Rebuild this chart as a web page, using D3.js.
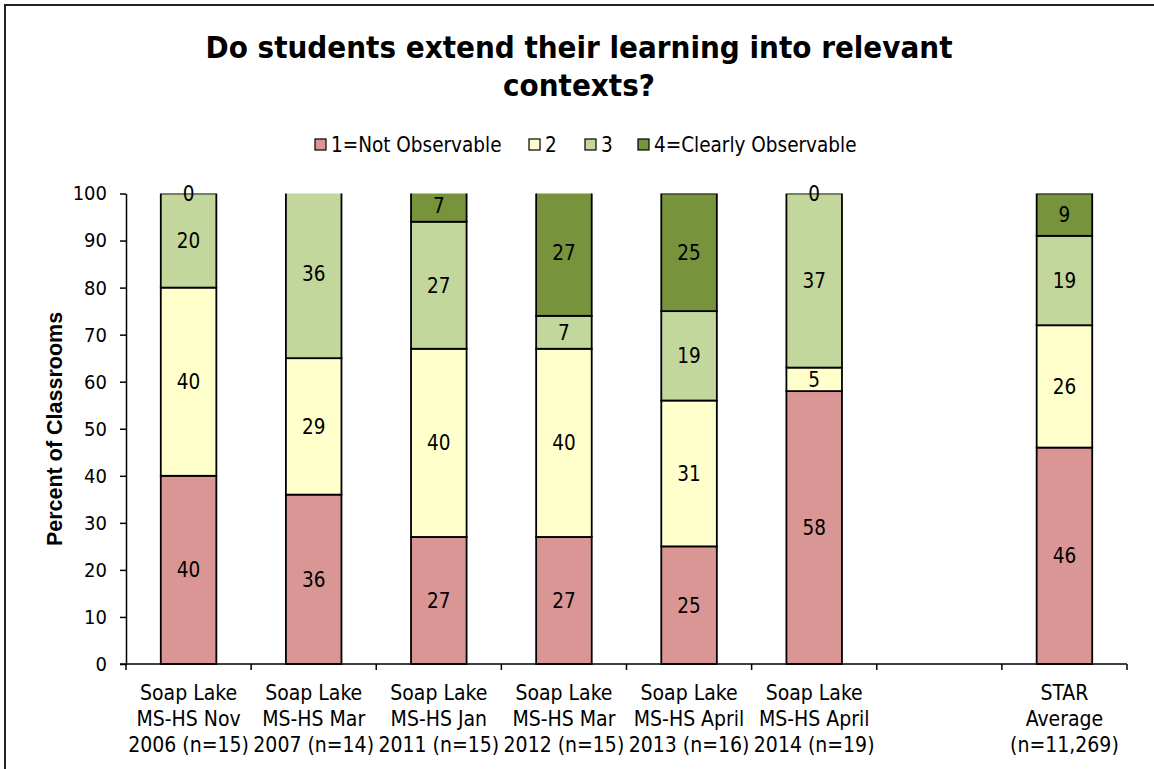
<!DOCTYPE html>
<html>
<head>
<meta charset="utf-8">
<script src="https://cdn.jsdelivr.net/npm/d3@7/dist/d3.min.js"></script>
<style>
  html, body { margin: 0; padding: 0; background: #fff; }
  svg { display: block; }
  text { font-family: "DejaVu Sans Condensed", "DejaVu Sans", sans-serif; fill: #000; }
</style>
</head>
<body>
<svg id="chart" width="1154" height="769"></svg>
<script>
// Survey waves (the blank entry leaves a gap before the state average)
const categories = [
  ["Soap Lake", "MS-HS Nov", "2006 (n=15)"],
  ["Soap Lake", "MS-HS Mar", "2007 (n=14)"],
  ["Soap Lake", "MS-HS Jan", "2011 (n=15)"],
  ["Soap Lake", "MS-HS Mar", "2012 (n=15)"],
  ["Soap Lake", "MS-HS April", "2013 (n=16)"],
  ["Soap Lake", "MS-HS April", "2014 (n=19)"],
  [],
  ["STAR", "Average", "(n=11,269)"]
];
const seriesNames = ["1=Not Observable", "2", "3", "4=Clearly Observable"];
const seriesColors = ["#D99694", "#FFFFCC", "#C3D69B", "#77933C"];

// Percent of classrooms per rating, one array per rating level
const notObservable     = [40, 36, 27, 27, 25, 58, null, 46];
const rating2           = [40, 29, 40, 40, 31, 5, null, 26];
const rating3           = [20, 36, 27, 7, 19, 37, null, 19];
const clearlyObservable = [0, null, 7, 27, 25, 0, null, 9];
const seriesValues = [notObservable, rating2, rating3, clearlyObservable];

const yTicks = [0, 10, 20, 30, 40, 50, 60, 70, 80, 90, 100];

const svg = d3.select("#chart");
const margin = { left: 126, right: 27, top: 193.5, bottom: 105 };
const W = 1154, H = 769;

// outer frame
svg.append("rect")
  .attr("x", 5).attr("y", 5).attr("width", 1160).attr("height", 780)
  .attr("fill", "none").attr("stroke", "#222").attr("stroke-width", 2);

// title
const title = svg.append("text")
  .attr("text-anchor", "middle")
  .style("font-weight", "bold").style("font-size", "31px");
title.append("tspan").attr("x", 579).attr("y", 58).text("Do students extend their learning into relevant");
title.append("tspan").attr("x", 579).attr("y", 96).text("contexts?");

const x = d3.scaleBand()
  .domain(d3.range(categories.length))
  .range([margin.left, W - margin.right])
  .padding(0);
const y = d3.scaleLinear().domain([0, 100]).range([H - margin.bottom, margin.top]);
const barW = x.bandwidth() * 0.444;

// legend
const legend = svg.append("g").attr("transform", "translate(0,144.5)");
const legendX = [315, 529, 585, 638];
seriesNames.forEach((name, i) => {
  const g = legend.append("g").attr("transform", `translate(${legendX[i]},0)`);
  g.append("rect").attr("x", 0).attr("y", -5.5).attr("width", 11).attr("height", 11)
    .attr("fill", seriesColors[i]).attr("stroke", "#000").attr("stroke-width", 1.2);
  g.append("text").attr("x", 16).attr("y", 7).style("font-size", "20.5px").text(name);
});

// stacked segments
const segments = [];
categories.forEach((c, ci) => {
  let base = 0;
  seriesValues.forEach((vals, si) => {
    const v = vals[ci];
    if (v === null || v === undefined) return;
    segments.push({ ci, si, v, y0: base, y1: base + v });
    base += v;
  });
});

svg.append("clipPath").attr("id", "plotClip")
  .append("rect")
  .attr("x", margin.left).attr("y", y(100))
  .attr("width", W - margin.left - margin.right).attr("height", y(0) - y(100) + 2);

const bars = svg.append("g").attr("clip-path", "url(#plotClip)");
bars.selectAll("rect").data(segments).join("rect")
  .attr("x", d => x(d.ci) + (x.bandwidth() - barW) / 2)
  .attr("width", barW)
  .attr("y", d => y(d.y1))
  .attr("height", d => y(d.y0) - y(d.y1))
  .attr("fill", d => seriesColors[d.si])
  .attr("stroke", "#000").attr("stroke-width", 1.8);

// value labels
svg.append("g").selectAll("text").data(segments).join("text")
  .attr("x", d => x(d.ci) + x.bandwidth() / 2)
  .attr("y", d => y(Math.min((d.y0 + d.y1) / 2, 100)))
  .attr("dy", "0.36em")
  .attr("text-anchor", "middle")
  .style("font-size", "20.5px")
  .text(d => d.v);

// y axis
const yAxis = svg.append("g")
  .attr("transform", `translate(${margin.left},0)`)
  .call(d3.axisLeft(y).tickValues(yTicks).tickSize(6).tickPadding(13).tickSizeOuter(0));
yAxis.selectAll("text").style("font-size", "20px")
  .style("font-family", "'DejaVu Sans Condensed', 'DejaVu Sans', sans-serif");
yAxis.selectAll("line, path").attr("stroke", "#000").attr("stroke-width", 1.5);

// x axis with boundary ticks
const xAxisG = svg.append("g").attr("transform", `translate(0,${y(0)})`);
xAxisG.append("line")
  .attr("x1", margin.left - 6).attr("x2", W - margin.right)
  .attr("stroke", "#000").attr("stroke-width", 1.5);
const bounds = x.domain().map(d => x(d)).concat([x(x.domain().length - 1) + x.bandwidth()]);
xAxisG.selectAll("line.tick").data(bounds).join("line")
  .attr("class", "tick")
  .attr("x1", d => d).attr("x2", d => d).attr("y1", 0).attr("y2", 6)
  .attr("stroke", "#000").attr("stroke-width", 1.5);

const xLabels = xAxisG.selectAll("text.cat").data(categories.map((c, i) => ({ c, i }))).join("text")
  .attr("class", "cat")
  .attr("text-anchor", "middle")
  .style("font-size", "21px");
xLabels.each(function (d) {
  const t = d3.select(this);
  d.c.forEach((line, li) => {
    t.append("tspan")
      .attr("x", x(d.i) + x.bandwidth() / 2)
      .attr("y", 35.5 + li * 26)
      .text(line);
  });
});

// y axis title
svg.append("text")
  .attr("transform", `translate(62,429) rotate(-90)`)
  .attr("text-anchor", "middle")
  .style("font-family", "'Liberation Sans', Arial, sans-serif")
  .style("font-weight", "bold").style("font-size", "21.5px")
  .text("Percent of Classrooms");
</script>
</body>
</html>
